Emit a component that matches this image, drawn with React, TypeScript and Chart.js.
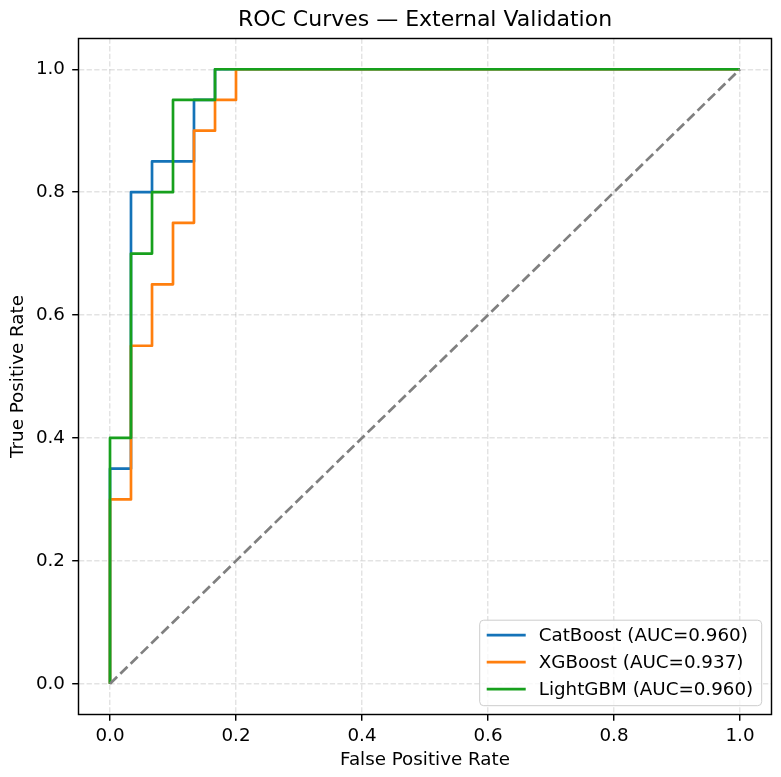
import React, { useEffect, useRef } from "react";
import { Chart, registerables } from "chart.js";

Chart.register(...registerables);

// ---- text ----
const chartTitle = "ROC Curves — External Validation";
const xAxisTitle = "False Positive Rate";
const yAxisTitle = "True Positive Rate";

// ---- axis ticks ----
const tickValues = [0, 0.2, 0.4, 0.6, 0.8, 1.0];
const tickLabels = ["0.0", "0.2", "0.4", "0.6", "0.8", "1.0"];

// ---- models ----
const modelNames = ["CatBoost", "XGBoost", "LightGBM"];
const modelAuc = ["0.960", "0.937", "0.960"];
const modelColors = ["#1473b8", "#ff7f0e", "#17a01d"];

// ROC corner points (false positive rate / true positive rate)
const catBoostFpr = [0, 0, 0.0333, 0.0333, 0.0667, 0.0667, 0.1333, 0.1333, 0.1667, 0.1667, 1];
const catBoostTpr = [0, 0.35, 0.35, 0.8, 0.8, 0.85, 0.85, 0.95, 0.95, 1, 1];

const xgBoostFpr = [0, 0, 0.0333, 0.0333, 0.0667, 0.0667, 0.1, 0.1, 0.1333, 0.1333, 0.1667, 0.1667, 0.2, 0.2, 1];
const xgBoostTpr = [0, 0.3, 0.3, 0.55, 0.55, 0.65, 0.65, 0.75, 0.75, 0.9, 0.9, 0.95, 0.95, 1, 1];

const lightGbmFpr = [0, 0, 0.0333, 0.0333, 0.0667, 0.0667, 0.1, 0.1, 0.1667, 0.1667, 1];
const lightGbmTpr = [0, 0.4, 0.4, 0.7, 0.7, 0.8, 0.8, 0.95, 0.95, 1, 1];

// chance diagonal
const chanceFpr = [0, 1];
const chanceTpr = [0, 1];

const FONT = "'DejaVu Sans', 'Liberation Sans', sans-serif";
const TEXT_SIZE = 18.3;

const toPoints = (xs: number[], ys: number[]) => xs.map((x, i) => ({ x, y: ys[i] }));

// full rectangular frame around the plotting area
const axesFrame = {
  id: "axesFrame",
  afterDatasetsDraw(chart: any) {
    const { ctx, chartArea: a } = chart;
    ctx.save();
    ctx.strokeStyle = "#000";
    ctx.lineWidth = 1.45;
    ctx.strokeRect(a.left, a.top, a.right - a.left, a.bottom - a.top);
    ctx.restore();
  },
};

// boxed legend in the lower-right corner of the plotting area
const cornerLegend = {
  id: "cornerLegend",
  afterDraw(chart: any) {
    const { ctx, chartArea: a } = chart;
    const items = chart.data.datasets.filter((d: any) => d.inLegend);
    ctx.save();
    ctx.font = `${TEXT_SIZE}px ${FONT}`;
    const textW = Math.max(...items.map((d: any) => ctx.measureText(d.label).width));
    const padL = 7, handleLen = 39, gap = 13, padR = 8.5;
    const rowGap = 27, padT = 15, padB = 16.5;
    const w = padL + handleLen + gap + textW + padR;
    const h = padT + rowGap * (items.length - 1) + padB;
    const x = a.right - 9.8 - w;
    const y = a.bottom - 8.8 - h;
    const r = 4;

    ctx.beginPath();
    ctx.moveTo(x + r, y);
    ctx.arcTo(x + w, y, x + w, y + h, r);
    ctx.arcTo(x + w, y + h, x, y + h, r);
    ctx.arcTo(x, y + h, x, y, r);
    ctx.arcTo(x, y, x + w, y, r);
    ctx.closePath();
    ctx.fillStyle = "rgba(255,255,255,0.8)";
    ctx.fill();
    ctx.strokeStyle = "#cccccc";
    ctx.lineWidth = 1;
    ctx.stroke();

    items.forEach((d: any, i: number) => {
      const cy = y + padT + i * rowGap;
      ctx.beginPath();
      ctx.moveTo(x + padL, cy);
      ctx.lineTo(x + padL + handleLen, cy);
      ctx.strokeStyle = d.borderColor;
      ctx.lineWidth = d.borderWidth;
      ctx.lineCap = "butt";
      ctx.stroke();
      ctx.fillStyle = "#000";
      ctx.textAlign = "left";
      ctx.textBaseline = "middle";
      ctx.fillText(d.label, x + padL + handleLen + gap, cy + 1);
    });
    ctx.restore();
  },
};

export default function App() {
  const canvasRef = useRef<HTMLCanvasElement>(null);

  useEffect(() => {
    if (!canvasRef.current) return;
    Chart.defaults.font.family = FONT;

    const curves = [
      [catBoostFpr, catBoostTpr],
      [xgBoostFpr, xgBoostTpr],
      [lightGbmFpr, lightGbmTpr],
    ];

    const modelSets = curves.map(([fx, ty], i) => ({
      label: `${modelNames[i]} (AUC=${modelAuc[i]})`,
      data: toPoints(fx, ty),
      showLine: true,
      borderColor: modelColors[i],
      backgroundColor: modelColors[i],
      borderWidth: 2.7,
      pointRadius: 0,
      borderJoinStyle: "round" as const,
      borderCapStyle: "butt" as const,
      order: 4 - i,
      inLegend: true,
    }));

    const axisCommon = (title: string, titlePad: any) => ({
      type: "linear" as const,
      min: -0.05,
      max: 1.05,
      afterBuildTicks: (s: any) => {
        s.ticks = tickValues.map((v) => ({ value: v }));
      },
      ticks: {
        callback: (_v: any, i: number) => tickLabels[i],
        color: "#000",
        font: { size: TEXT_SIZE },
        autoSkip: false,
        maxRotation: 0,
      },
      grid: {
        color: "rgba(176,176,176,0.35)",
        lineWidth: 1.45,
        tickColor: "#000",
        tickWidth: 1.45,
        tickLength: 6.3,
        drawTicks: true,
      },
      border: { display: false, dash: [5.3, 2.3] },
      title: {
        display: true,
        text: title,
        color: "#000",
        font: { size: TEXT_SIZE },
        padding: titlePad,
      },
    });

    const xAxis: any = axisCommon(xAxisTitle, { top: 0, bottom: 5.6 });
    xAxis.ticks.padding = 4;
    xAxis.afterFit = (s: any) => {
      s.height = 62.5;
    };
    const yAxis: any = axisCommon(yAxisTitle, { top: 7.7, bottom: 0 });
    yAxis.ticks.padding = 7.2;
    yAxis.afterFit = (s: any) => {
      s.width = 78.5;
    };

    const chart = new Chart(canvasRef.current, {
      type: "scatter",
      data: {
        datasets: [
          ...modelSets,
          {
            label: "chance",
            data: toPoints(chanceFpr, chanceTpr),
            showLine: true,
            borderColor: "#808080",
            backgroundColor: "#808080",
            borderWidth: 2.7,
            borderDash: [10, 4.4],
            pointRadius: 0,
            order: 1,
            inLegend: false,
          } as any,
        ],
      },
      options: {
        animation: false,
        responsive: false,
        devicePixelRatio: 1,
        events: [],
        layout: { padding: { left: 0, right: 9.5, top: 0, bottom: 0 } },
        scales: { x: xAxis, y: yAxis },
        plugins: {
          legend: { display: false },
          tooltip: { enabled: false },
          title: {
            display: true,
            fullSize: false,
            text: chartTitle,
            color: "#000",
            font: { size: 22, weight: "normal" as const },
            padding: { top: 6.8, bottom: 5.3 },
          },
        },
      },
      plugins: [axesFrame, cornerLegend],
    });

    return () => chart.destroy();
  }, []);

  return (
    <div style={{ position: "absolute", left: 0, top: 0, width: 781, height: 777, background: "#fff" }}>
      <canvas ref={canvasRef} width={781} height={777} style={{ display: "block", width: 781, height: 777 }} />
    </div>
  );
}
